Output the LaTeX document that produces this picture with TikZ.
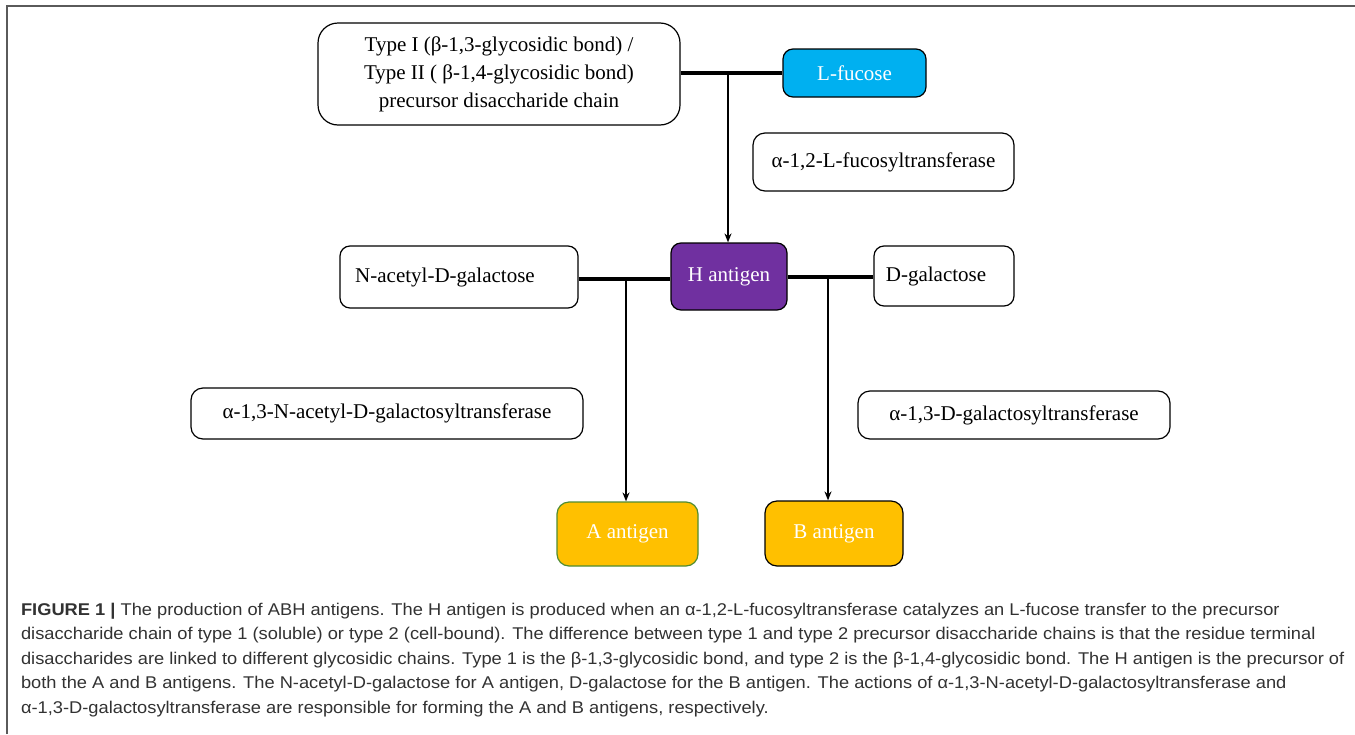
\documentclass[tikz,border=0pt]{standalone}
\usepackage{fontspec}
\setmainfont{Liberation Serif}
\newfontfamily\capfont[FakeStretch=1.075]{Liberation Sans}
\usepackage{xcolor}
\usepackage{tikz}
\usetikzlibrary{arrows.meta, positioning}
\definecolor{fucblue}{RGB}{0,176,240}
\definecolor{hpurple}{RGB}{112,48,160}
\definecolor{agold}{RGB}{255,192,0}
\definecolor{agreen}{RGB}{80,140,50}
\definecolor{framegray}{RGB}{90,90,90}
\definecolor{captext}{RGB}{50,50,50}

\begin{document}
\begin{tikzpicture}[
  x=0.5pt, y=-0.5pt,
  box/.style={draw=black, line width=0.6pt, rounded corners=8pt, fill=white,
              align=center, inner sep=2pt, font=\fontsize{10.5}{14}\selectfont},
  sugar/.style={box, rounded corners=5pt},
  enzyme/.style={box, rounded corners=6pt},
  antigen/.style={box, rounded corners=6pt, fill=agold, text=white},
  bond/.style={line width=2pt, black},
  arr/.style={-{Stealth[length=4.5pt, width=3.5pt]}, line width=0.75pt, black},
  caption/.style={anchor=north west, align=left, text=captext,
                  font=\capfont\fontsize{8.5}{12.25}\selectfont}
]
\useasboundingbox (0,0) rectangle (1355,734);

% frame of the figure
\draw[framegray, line width=1pt] (7,734) -- (7,6) -- (1355,6);

% precursor and L-fucose
\node[box, rounded corners=10pt, minimum width=181pt, minimum height=51pt] (prec) at (499,74)
  {Type I (β-1,3-glycosidic bond) /\\Type II ( β-1,4-glycosidic bond)\\precursor disaccharide chain};
\node[sugar, fill=fucblue, text=white, minimum width=71.5pt, minimum height=24pt] (fuc) at (854.5,73) {L-fucose};
\node[enzyme, minimum width=130.5pt, minimum height=29pt] (fucT) at (883.5,162) {α-1,2-L-fucosyltransferase};

% H antigen and the two sugars
\node[sugar, fill=hpurple, text=white, minimum width=58pt, minimum height=33.5pt] (hag) at (729,276.5) {H antigen};
\node[sugar, minimum width=119pt, minimum height=31pt] (nacgal) at (459,277) {N-acetyl-D-galactose\hspace*{14pt}};
\node[sugar, minimum width=70pt, minimum height=30pt] (dgal) at (944,276) {D-galactose\hspace*{8pt}};

% transferases
\node[enzyme, minimum width=196pt, minimum height=25.5pt] (nacT) at (387,413.5) {α-1,3-N-acetyl-D-galactosyltransferase};
\node[enzyme, minimum width=156pt, minimum height=24pt] (galT) at (1014,415) {α-1,3-D-galactosyltransferase};

% A and B antigens
\node[antigen, draw=agreen, minimum width=70.5pt, minimum height=32pt] (aag) at (627.5,534) {A antigen};
\node[antigen, minimum width=69pt, minimum height=32.5pt] (bag) at (834,533.5) {B antigen};

% junctions on the bonds
\coordinate (jh) at (728,73);
\coordinate (ja) at (626,279);
\coordinate (jb) at (828,277);

% Bonds
\draw[bond] (prec.east |- jh) -- (fuc.west |- jh);
\draw[bond] (nacgal.east |- ja) -- (hag.west |- ja);
\draw[bond] (hag.east |- jb) -- (dgal.west |- jb);

% Arrows
\draw[arr] (jh) -- (jh |- hag.north);
\draw[arr] (ja) -- (ja |- aag.north);
\draw[arr] (jb) -- (jb |- bag.north);

% Caption
\node[caption] (cap) at (14,596) {\textbf{FIGURE 1 |} The production of ABH antigens. The H antigen is produced when an α-1,2-L-fucosyltransferase catalyzes an L-fucose transfer to the precursor\\
disaccharide chain of type 1 (soluble) or type 2 (cell-bound). The difference between type 1 and type 2 precursor disaccharide chains is that the residue terminal\\
disaccharides are linked to different glycosidic chains. Type 1 is the β-1,3-glycosidic bond, and type 2 is the β-1,4-glycosidic bond. The H antigen is the precursor of\\
both the A and B antigens. The N-acetyl-D-galactose for A antigen, D-galactose for the B antigen. The actions of α-1,3-N-acetyl-D-galactosyltransferase and\\
α-1,3-D-galactosyltransferase are responsible for forming the A and B antigens, respectively.};

\end{tikzpicture}
\end{document}
